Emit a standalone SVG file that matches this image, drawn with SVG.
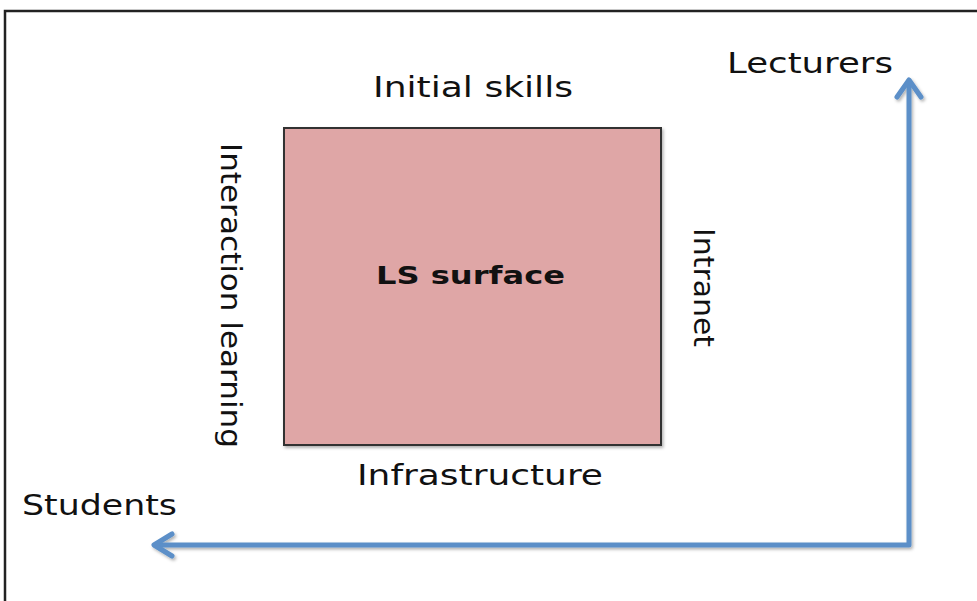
<svg xmlns="http://www.w3.org/2000/svg" width="977" height="601" viewBox="0 0 977 601">
  <defs>
    <filter id="shadow" x="-10%" y="-10%" width="120%" height="120%">
      <feDropShadow dx="1.5" dy="2" stdDeviation="1.5" flood-color="#000" flood-opacity="0.3"/>
    </filter>
    <style>
      .lbl { font-family: "DejaVu Sans", Verdana, sans-serif; font-size: 27.5px; fill: #111; }
      .bold { font-weight: bold; font-size: 25px; }
      .conn { fill: none; stroke: #5b8fc8; stroke-width: 5; stroke-linecap: round; stroke-linejoin: round; }
    </style>
  </defs>
  <rect x="0" y="0" width="977" height="601" fill="#fff"/>
  <path d="M5,601 V11 H977" fill="none" stroke="#222" stroke-width="2.5"/>

  <g id="ls-surface">
    <rect x="284" y="128" width="377" height="317" fill="#dfa6a6" stroke="#333" stroke-width="2" filter="url(#shadow)"/>
    <text class="lbl bold" x="376" y="284" textLength="189" lengthAdjust="spacingAndGlyphs">LS surface</text>
  </g>
  <g id="initial-skills">
    <text class="lbl" x="373" y="97" textLength="200" lengthAdjust="spacingAndGlyphs">Initial skills</text>
  </g>
  <g id="infrastructure">
    <text class="lbl" x="357" y="485" textLength="246" lengthAdjust="spacingAndGlyphs">Infrastructure</text>
  </g>
  <g id="interaction-learning">
    <text class="lbl" transform="translate(221,143) rotate(90)" x="0" y="0" textLength="305" lengthAdjust="spacingAndGlyphs">Interaction learning</text>
  </g>
  <g id="intranet">
    <text class="lbl" transform="translate(694,228) rotate(90)" x="0" y="0" textLength="119" lengthAdjust="spacingAndGlyphs">Intranet</text>
  </g>
  <g id="lecturers">
    <text class="lbl" x="727" y="73" textLength="166" lengthAdjust="spacingAndGlyphs">Lecturers</text>
  </g>
  <g id="students">
    <text class="lbl" x="22" y="515" textLength="155" lengthAdjust="spacingAndGlyphs">Students</text>
  </g>

  <g id="connectors" filter="url(#shadow)">
    <path class="conn" d="M155,545 H909 V81"/>
    <path class="conn" d="M172,534 L154,545 L172,556"/>
    <path class="conn" d="M897,97 L909,80 L921,97"/>
  </g>
</svg>
